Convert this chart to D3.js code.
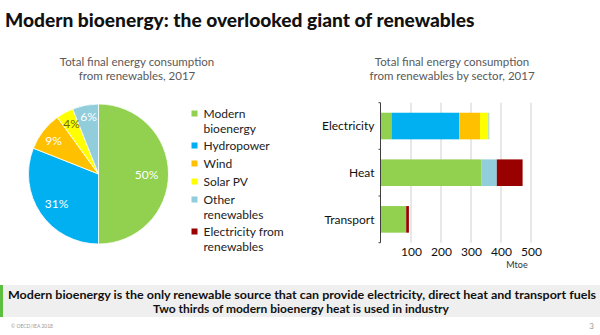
<!DOCTYPE html>
<html><head><meta charset="utf-8">
<script src="https://cdn.jsdelivr.net/npm/d3@7"></script>
<style>body{margin:0;background:#fff}svg{display:block}</style>
</head><body><svg id="c" width="600" height="335"></svg>
<script>
const pieLabels = ["Modern bioenergy","Hydropower","Wind","Solar PV","Other renewables"];
const pieValues = [50,31,9,4,6];
const seriesNames = ["Modern bioenergy","Hydropower","Wind","Solar PV","Other renewables","Electricity from renewables"];
const colors = ["#92d050","#00b0f0","#ffc000","#ffff00","#92cddc","#990000"];
const sectors = ["Electricity","Heat","Transport"];
const bioenergy = [35,334,84];
const hydro = [226,0,0];
const wind = [69,0,0];
const solar = [28,0,0];
const other = [3,52,0];
const elecRen = [0,86,9];
const xTicks = [100,200,300,400,500];
const legendLines = [["Modern","bioenergy"],["Hydropower"],["Wind"],["Solar PV"],["Other","renewables"],["Electricity from","renewables"]];

const svg = d3.select("#c");
const F = "Lato, 'Open Sans', sans-serif";

// Title (font size fitted so the line spans ~470px)
const title = svg.append("text").attr("x",5).attr("y",27).attr("font-family","Lato, sans-serif")
  .attr("font-weight",900).attr("font-size",22).attr("fill","#111")
  .text("Modern bioenergy: the overlooked giant of renewables");
const tw = title.node().getComputedTextLength();
title.attr("font-size", Math.min(24, 22*470/tw));

// Subtitles
function sub(x, lines){
  lines.forEach((t,i)=>svg.append("text").attr("x",x).attr("y",66+i*14).attr("text-anchor","middle")
    .attr("font-family",F).attr("font-size",11.5).attr("fill","#595959").text(t));
}
sub(137,["Total final energy consumption","from renewables, 2017"]);
sub(452,["Total final energy consumption","from renewables by sector, 2017"]);

// Pie
const cx=98.5, cy=174, r=70;
const pie = d3.pie().sort(null).value(d=>d)(pieValues);
const arc = d3.arc().innerRadius(0).outerRadius(r);
const g = svg.append("g").attr("transform",`translate(${cx},${cy})`);
g.selectAll("path").data(pie).join("path").attr("d",arc)
  .attr("fill",(d,i)=>colors[i]).attr("stroke","#fff").attr("stroke-width",0.8);
const labelPos = [[48,1],[-42,30],[-45,-33],[-27,-50],[-10,-57]];
g.selectAll("text.pl").data(pie).join("text").attr("class","pl")
  .attr("x",(d,i)=>labelPos[i][0]).attr("y",(d,i)=>labelPos[i][1]).attr("dy","0.35em")
  .attr("text-anchor","middle").attr("font-family",F).attr("font-size",12)
  .attr("fill",(d,i)=>i===3?"#6b6b00":"#fff")
  .text((d,i)=>pieValues[i]+"%");

// Legend
let ly = 113.5;
legendLines.forEach((lines,i)=>{
  svg.append("rect").attr("x",191.5).attr("y",ly-3).attr("width",6).attr("height",6).attr("fill",colors[i]);
  lines.forEach((t,j)=>{
    svg.append("text").attr("x",203.5).attr("y",ly+j*15).attr("dy","0.35em")
      .attr("font-family",F).attr("font-size",12).attr("fill","#222").text(t);
  });
  ly += lines.length*15 + 3 + (lines.length>1?-1:0);
});

// Bar chart
const x = d3.scaleLinear().domain([0,500]).range([381,531]);
const y = d3.scaleBand().domain(sectors).range([102.7,242.7]).paddingInner(0.43).paddingOuter(0.215);
const stackData = sectors.map((s,i)=>({sector:s, b:bioenergy[i], h:hydro[i], w:wind[i], s2:solar[i], o:other[i], e:elecRen[i]}));
const keys = ["b","h","w","s2","o","e"];
const stack = d3.stack().keys(keys)(stackData);

// grid
svg.append("g").selectAll("line").data(xTicks).join("line")
  .attr("x1",d=>x(d)).attr("x2",d=>x(d)).attr("y1",102.7).attr("y2",242.7)
  .attr("stroke","#d0d0d0").attr("stroke-width",1);

svg.append("g").selectAll("g").data(stack).join("g").attr("fill",(d,i)=>colors[i])
  .selectAll("rect").data(d=>d).join("rect")
  .attr("x",d=>x(d[0])).attr("width",d=>Math.max(0,x(d[1])-x(d[0])))
  .attr("y",d=>y(d.data.sector)).attr("height",y.bandwidth());

// y axis
const ya = svg.append("g").attr("transform","translate(380.5,0)");
ya.append("line").attr("y1",102.7).attr("y2",242.7).attr("stroke","#404040");
const bounds = [102.7,149.3,196,242.7];
ya.selectAll("line.t").data(bounds).join("line").attr("class","t")
  .attr("x1",-2).attr("x2",0).attr("y1",d=>d).attr("y2",d=>d).attr("stroke","#404040");
ya.selectAll("text").data(sectors).join("text")
  .attr("x",-6).attr("y",d=>y(d)+y.bandwidth()/2).attr("dy","0.35em").attr("text-anchor","end")
  .attr("font-family",F).attr("font-size",12).attr("fill","#111").text(d=>d);

// x axis labels
const xa = d3.axisBottom(x).tickValues(xTicks).tickSize(0).tickPadding(0);
const xg = svg.append("g").attr("transform","translate(0,247)").call(xa);
xg.select(".domain").remove();
xg.selectAll("text").attr("font-family",F).attr("font-size",12).attr("fill","#111").attr("dy","0.71em");
svg.append("text").attr("x",517).attr("y",267.5).attr("text-anchor","middle")
  .attr("font-family",F).attr("font-size",9).attr("fill","#333").text("Mtoe");

// Bottom band
svg.append("rect").attr("x",0).attr("y",285).attr("width",600).attr("height",32).attr("fill","#efefef");
svg.append("rect").attr("x",0).attr("y",285).attr("width",3).attr("height",32).attr("fill","#5cbf3f");
svg.append("text").attr("x",302).attr("y",298.5).attr("text-anchor","middle").attr("font-family",F)
  .attr("font-weight","bold").attr("font-size",12).attr("fill","#111")
  .attr("textLength",588).attr("lengthAdjust","spacingAndGlyphs")
  .text("Modern bioenergy is the only renewable source that can provide electricity, direct heat and transport fuels");
svg.append("text").attr("x",301).attr("y",312.5).attr("text-anchor","middle").attr("font-family",F)
  .attr("font-weight","bold").attr("font-size",12).attr("fill","#111")
  .text("Two thirds of modern bioenergy heat is used in industry");
svg.append("text").attr("x",11).attr("y",328).attr("font-family",F).attr("font-size",5).attr("fill","#999").text("© OECD/IEA 2018");
svg.append("text").attr("x",594).attr("y",329).attr("text-anchor","end").attr("font-family",F).attr("font-size",8).attr("fill","#999").text("3");
</script></body></html>
